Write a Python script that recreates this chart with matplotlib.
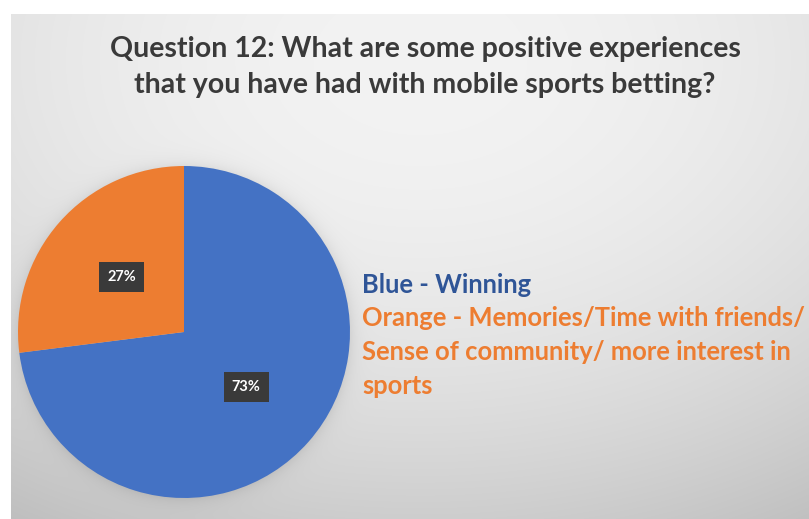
import numpy as np
import matplotlib
matplotlib.use("Agg")
import matplotlib.pyplot as plt

# Survey results
categories = ["Winning", "Memories/Time with friends/Sense of community/ more interest in sports"]
shares = [73, 27]
pct_labels = ["73%", "27%"]
colors = ["#4472C4", "#ED7D31"]

title = "Question 12: What are some positive experiences\nthat you have had with mobile sports betting?"
legend_lines = [
    ("Blue - Winning", "#2F5597"),
    ("Orange - Memories/Time with friends/", "#ED7D31"),
    ("Sense of community/ more interest in", "#ED7D31"),
    ("sports", "#ED7D31"),
]

W, H = 809, 519
fig = plt.figure(figsize=(W / 100, H / 100), dpi=100)
fig.patch.set_facecolor("white")

# Slide background: soft radial grey gradient with a shadow under the pie
x0, y0 = 11, 14
yy, xx = np.mgrid[0:H, 0:W].astype(float)
dx = (xx - 420) / 400
dy = (yy - 60) / 460
bg = 243 - 14 * dx ** 2 - 38 * dy ** 2
cx, cy, R = 184, 332, 166
r = np.hypot(xx - cx, yy - cy)
shadow = np.exp(-np.clip(r - R + 2, 0, None) / 7.0)
bg = bg - 22 * shadow
bg = np.clip(bg, 0, 255) / 255.0
img = np.dstack([bg, bg, bg])
img[:y0, :, :] = 1.0
img[:, :x0, :] = 1.0

bax = fig.add_axes([0, 0, 1, 1])
bax.imshow(img, extent=[0, W, H, 0], interpolation="bilinear")
bax.set_xlim(0, W)
bax.set_ylim(H, 0)
bax.axis("off")

# Pie axes placed in pixel coordinates
ax = fig.add_axes([(cx - R) / W, 1 - (cy + R) / H, 2 * R / W, 2 * R / H])
wedges, _ = ax.pie(shares, colors=colors, startangle=90, counterclock=False,
                   radius=1.0, wedgeprops=dict(linewidth=0))
ax.set_xlim(-1, 1)
ax.set_ylim(-1, 1)
ax.set_aspect("equal")
ax.axis("off")

# Percentage labels in dark boxes at the middle of each wedge
start = 90.0
total = sum(shares)
for s, lab in zip(shares, pct_labels):
    span = 360.0 * s / total
    th = np.deg2rad(start - span / 2)
    start -= span
    ax.text(0.5 * np.cos(th), 0.5 * np.sin(th), lab, ha="center", va="center",
            color="white", fontsize=10.5, fontweight="bold", family="Lato",
            bbox=dict(boxstyle="square,pad=0.55", fc="#3A3A3A", ec="none"))

# Title
fig.text(425 / W, 1 - 67 / H, title, ha="center", va="center", fontsize=20.5,
         fontweight="bold", family="Lato", color="#3A3A3A", linespacing=1.45)

# Legend text
ly = 285
for txt, col in legend_lines:
    fig.text(362 / W, 1 - ly / H, txt, ha="left", va="center", fontsize=18.4,
             fontweight="bold", family="Lato", color=col)
    ly += 33.5

fig.savefig("out.png", dpi=100)
